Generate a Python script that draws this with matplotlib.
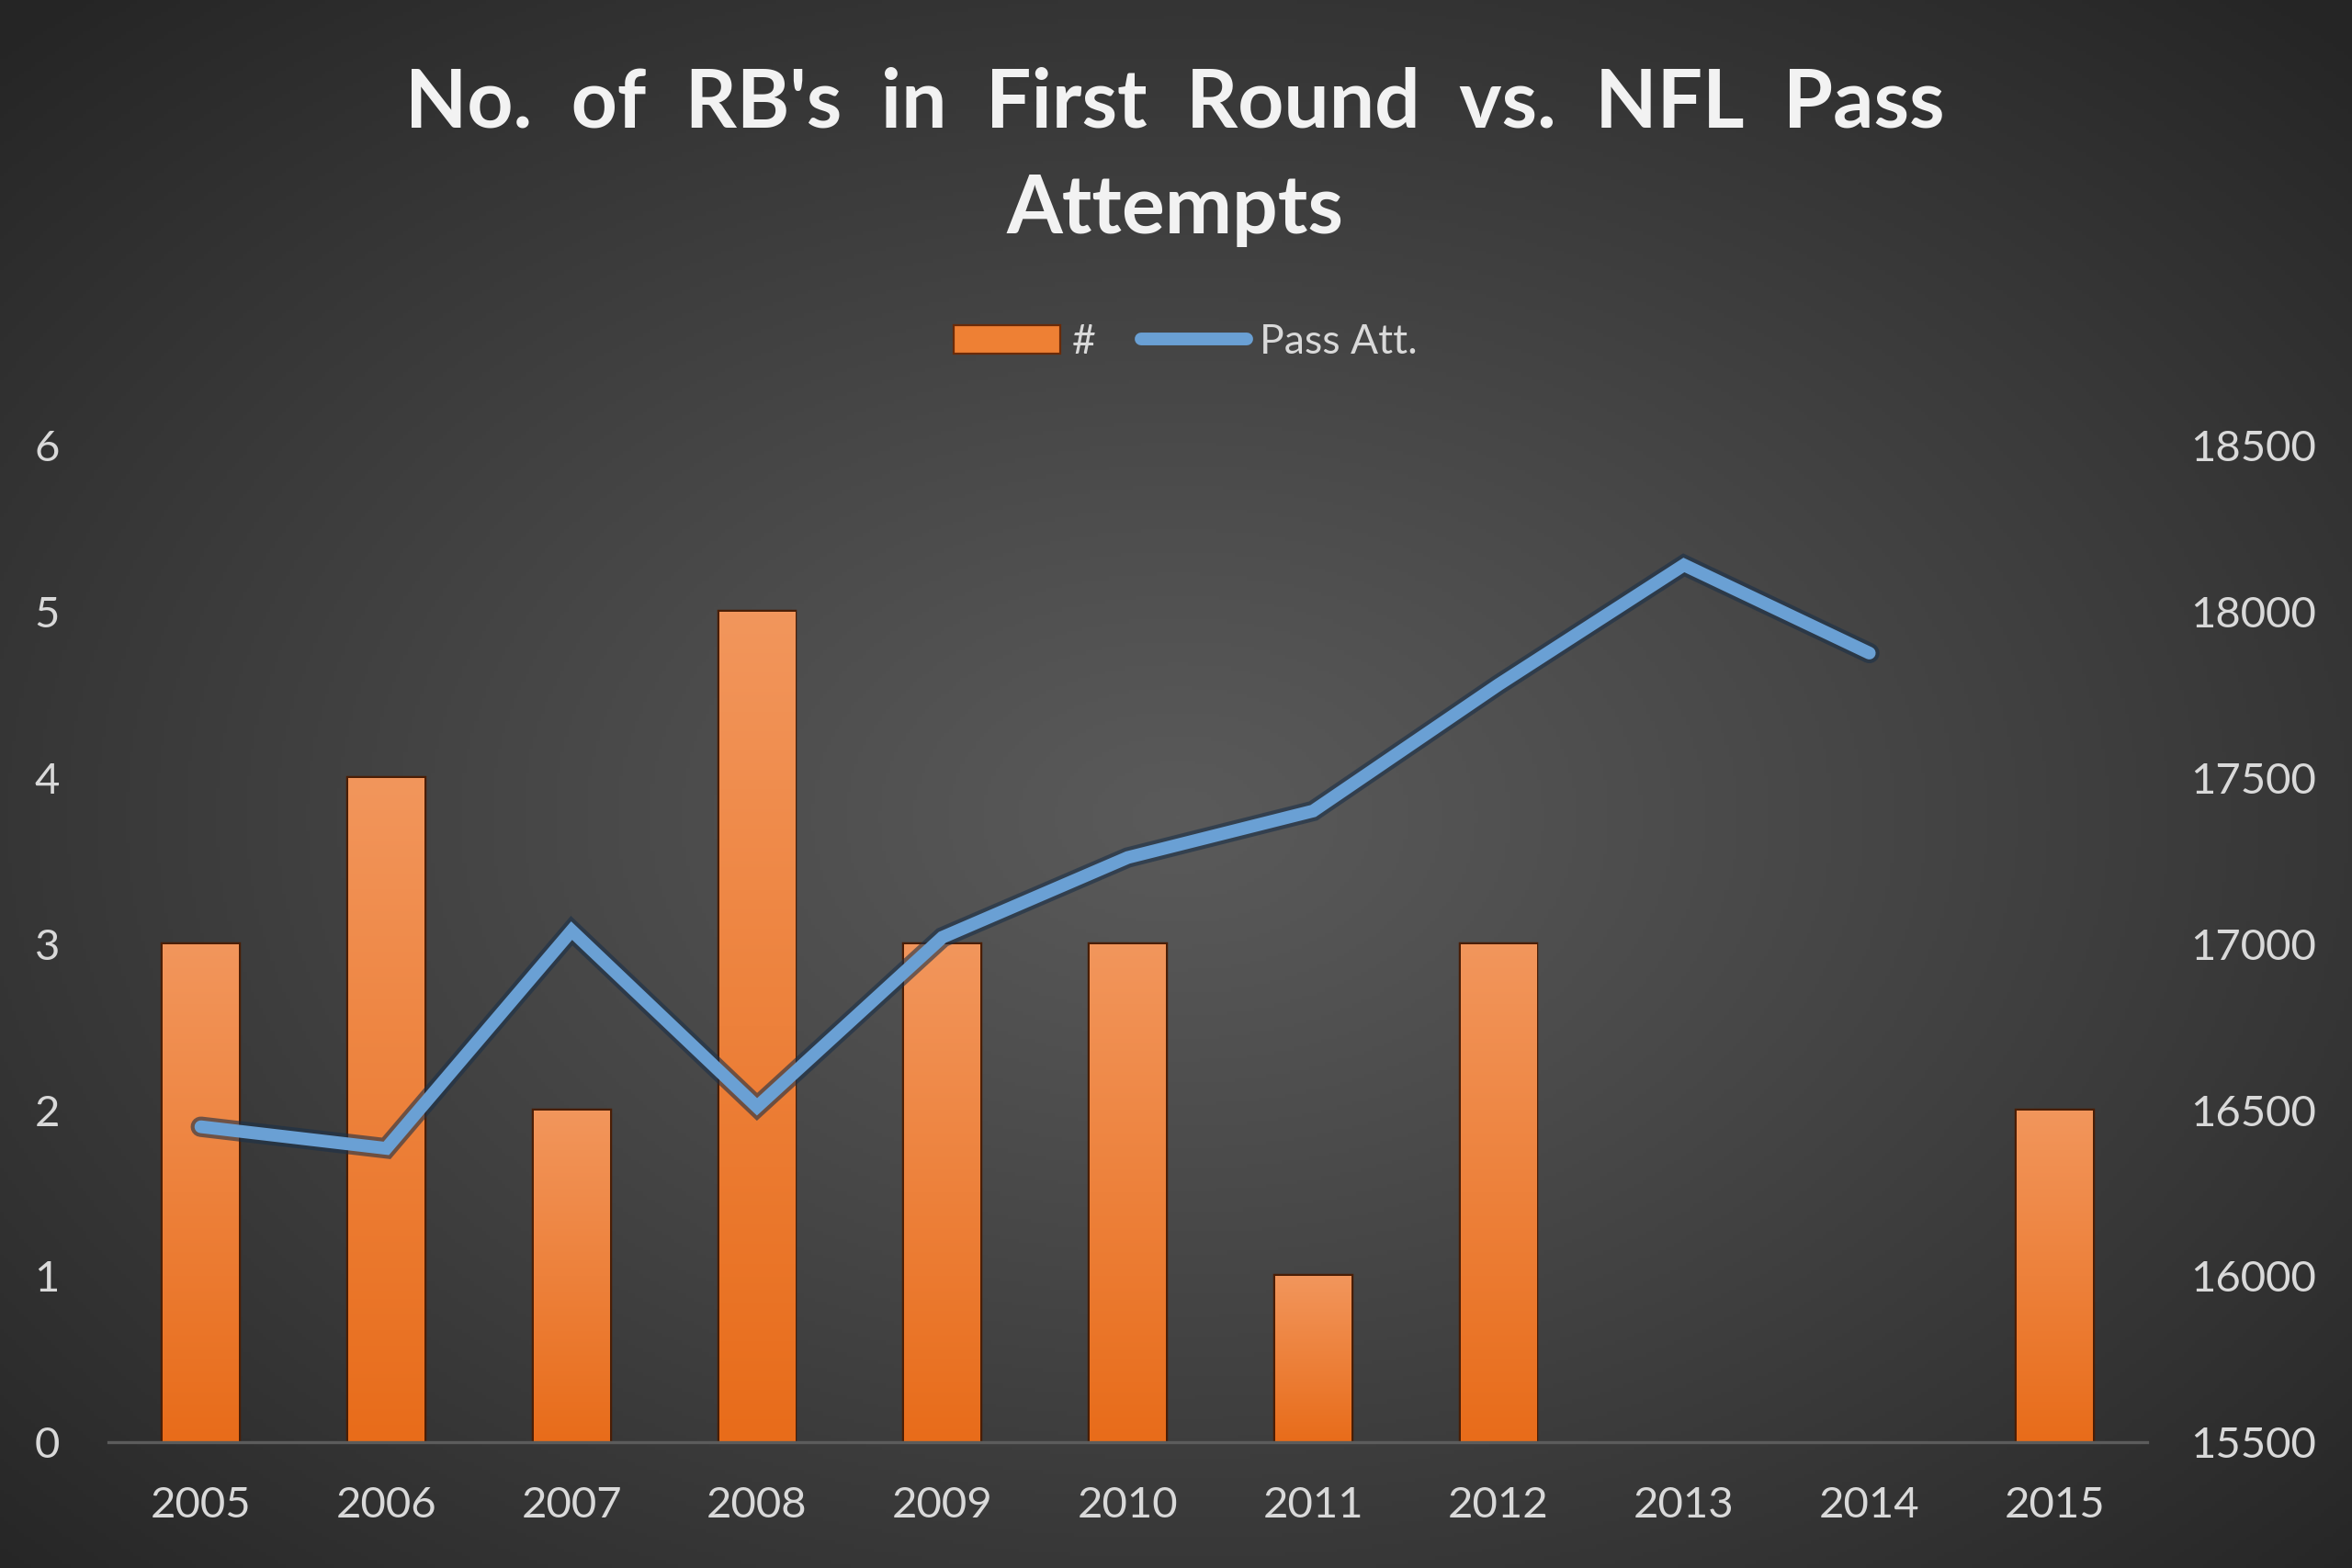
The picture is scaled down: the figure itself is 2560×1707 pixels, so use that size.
import numpy as np
import matplotlib
matplotlib.use("Agg")
import matplotlib.pyplot as plt
from matplotlib.patches import Patch
from matplotlib.lines import Line2D
import matplotlib.patheffects as pe

years = ["2005", "2006", "2007", "2008", "2009", "2010", "2011", "2012", "2013", "2014", "2015"]
rb_count = [3, 4, 2, 5, 3, 3, 1, 3, 0, 0, 2]
pass_att = [16450, 16385, 17040, 16510, 17020, 17260, 17400, 17780, 18140, 17875, np.nan]
left_ticks = [0, 1, 2, 3, 4, 5, 6]
right_ticks = [15500, 16000, 16500, 17000, 17500, 18000, 18500]

FONT = "Lato"
TXT = "#d9d9d9"
ORANGE_TOP = np.array([0xF2, 0x96, 0x5C]) / 255
ORANGE_BOT = np.array([0xE8, 0x6C, 0x1A]) / 255
BLUE = "#6aa0d4"

fig = plt.figure(figsize=(12.8, 8.535), dpi=200)

# radial gradient background
bg = fig.add_axes([0, 0, 1, 1], zorder=-10)
ny, nx = 400, 600
yy, xx = np.mgrid[0:ny, 0:nx]
cx, cy = nx * 0.5, ny * 0.52
r = np.sqrt(((xx - cx) / (nx * 0.5)) ** 2 + ((yy - cy) / (ny * 0.5)) ** 2) / np.sqrt(2)
r = np.clip(r, 0, 1)
c_center = np.array([0x5a, 0x5a, 0x5a]) / 255
c_edge = np.array([0x25, 0x25, 0x25]) / 255
t = r ** 1.1
img = c_center[None, None, :] * (1 - t[..., None]) + c_edge[None, None, :] * t[..., None]
bg.imshow(img, aspect="auto", extent=[0, 1, 0, 1], origin="upper")
bg.axis("off")

ax = fig.add_axes([0.046, 0.080, 0.867, 0.636])
ax.set_facecolor("none")
x = np.arange(len(years))
bars = ax.bar(x, rb_count, width=0.41, color="#ec7f33", edgecolor="#4a1e06", linewidth=1.6, zorder=2)

grad = np.linspace(0, 1, 256)[:, None]
gimg = ORANGE_TOP[None, None, :] * (1 - grad[..., None]) + ORANGE_BOT[None, None, :] * grad[..., None]
for b in bars:
    h = b.get_height()
    if h <= 0:
        b.set_linewidth(0)
        continue
    x0 = b.get_x()
    w = b.get_width()
    im = ax.imshow(gimg, extent=[x0, x0 + w, 0, h], aspect="auto", origin="upper", zorder=3)
    im.set_clip_path(b)

ax.set_xlim(-0.5, len(years) - 0.5)
ax.set_ylim(0, 6)
ax.set_yticks(left_ticks)
ax.set_xticks(x)
ax.set_xticklabels(years)
for s in ["top", "left", "right"]:
    ax.spines[s].set_visible(False)
ax.spines["bottom"].set_color("#5c5c5c")
ax.spines["bottom"].set_linewidth(1.2)
ax.spines["bottom"].set_zorder(4)
ax.tick_params(axis="both", length=0, colors=TXT, labelsize=17)
ax.tick_params(axis="y", pad=19)
ax.tick_params(axis="x", pad=17)
for lab in ax.get_xticklabels() + ax.get_yticklabels():
    lab.set_fontfamily(FONT)
    lab.set_color(TXT)

ax2 = ax.twinx()
ax2.set_ylim(15500, 18500)
ax2.set_yticks(right_ticks)
for s in ["top", "left", "right", "bottom"]:
    ax2.spines[s].set_visible(False)
ax2.tick_params(axis="y", length=0, colors=TXT, labelsize=17, pad=17)
for lab in ax2.get_yticklabels():
    lab.set_fontfamily(FONT)
    lab.set_color(TXT)
ax2.plot(x, pass_att, color=BLUE, lw=5, solid_joinstyle="miter", solid_capstyle="round", zorder=5,
         path_effects=[pe.Stroke(linewidth=8, foreground="#1b3048", alpha=0.6), pe.Normal()])

fig.text(0.4995, 0.934, "No.  of  RB's  in  First  Round  vs.  NFL  Pass", ha="center", va="center",
         fontsize=31.5, fontweight="bold", color="#f2f2f2", family=FONT)
fig.text(0.4995, 0.866, "Attempts", ha="center", va="center",
         fontsize=31.5, fontweight="bold", color="#f2f2f2", family=FONT)

handles = [Patch(facecolor="#ee8034", edgecolor="#6a2a08", linewidth=0.8),
           Line2D([0], [0], color=BLUE, lw=5, solid_capstyle="round")]
leg = fig.legend(handles, ["#", "Pass Att."], loc="center", bbox_to_anchor=(0.504, 0.782), ncol=2,
                 frameon=False, handlelength=2.6, handletextpad=0.3, columnspacing=1.1,
                 prop={"family": FONT, "size": 16})
for txt in leg.get_texts():
    txt.set_color(TXT)

fig.savefig("out.png", dpi=200)
